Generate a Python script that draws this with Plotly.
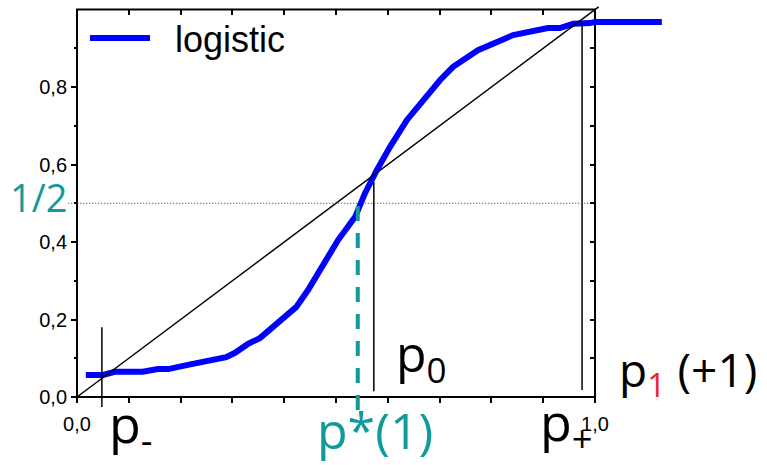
import plotly.graph_objects as go

# ---- data -------------------------------------------------------------
logistic_x = [0.017, 0.050, 0.073, 0.127, 0.156, 0.176, 0.214, 0.259, 0.288,
              0.305, 0.330, 0.353, 0.388, 0.423, 0.446, 0.469, 0.504, 0.537,
              0.556, 0.579, 0.604, 0.637, 0.668, 0.701, 0.726, 0.774, 0.842,
              0.909, 0.932, 0.958, 0.990, 1.000, 1.129]
logistic_y = [0.057, 0.057, 0.065, 0.065, 0.072, 0.072, 0.083, 0.095, 0.103,
              0.114, 0.137, 0.152, 0.194, 0.232, 0.276, 0.328, 0.405, 0.465,
              0.526, 0.586, 0.645, 0.715, 0.766, 0.818, 0.852, 0.895, 0.934,
              0.952, 0.952, 0.963, 0.965, 0.968, 0.968]

diag_x = [0.0, 1.007]
diag_y = [0.0, 1.007]

# fixed points p-, p0, p+ and the level p*(1) where the curve crosses 1/2
p_minus, p_zero, p_plus = 0.048, 0.573, 0.975
p_minus_top, p_zero_top, p_plus_top = 0.18, 0.555, 0.965
p_minus_bottom, p_zero_bottom, p_plus_bottom = -0.026, 0.015, 0.018
p_star = 0.542
half = 0.5
half_x_start = -0.017

x_tickvals = [0.0, 1.0]
x_ticktext = ["0,0", "1,0"]
x_minorvals = [round(0.1 * i, 1) for i in range(1, 10)]
y_tickvals = [0.0, 0.2, 0.4, 0.6, 0.8]
y_ticktext = ["0,0", "0,2", "0,4", "0,6", "0,8"]
y_minorvals = [0.1, 0.3, 0.5, 0.7, 0.9]
inner_ticks = [round(0.1 * i, 1) for i in range(1, 10)]

# ---- geometry ---------------------------------------------------------
W, H = 767, 465
L, R, T, B = 62, 720, 4, 410          # plot area in pixels
x_range = [-0.0290, 1.2413]
y_range = [-0.03355, 1.01419]


def paper_x(v):
    return (v - x_range[0]) / (x_range[1] - x_range[0])


def paper_y(v):
    return (v - y_range[0]) / (y_range[1] - y_range[0])


def px_x(p):
    return (p - L) / (R - L)


def px_y(p):
    return (B - p) / (B - T)


BLUE = "#0000FF"
TEAL = "#12999A"
RED = "#E8262B"
BIG = "Open Sans, DejaVu Sans, sans-serif"
AX = "Liberation Sans, Arial, sans-serif"

fig = go.Figure()

fig.add_trace(go.Scatter(
    x=logistic_x, y=logistic_y, mode="lines",
    name="\u00a0\u00a0logistic",
    line=dict(color=BLUE, width=6), showlegend=True))

fig.add_trace(go.Scatter(
    x=diag_x, y=diag_y, mode="lines", line=dict(color="black", width=1.5),
    showlegend=False, hoverinfo="skip"))

vx, vy = [], []
for xv, lo, hi in [(p_minus, p_minus_bottom, p_minus_top),
                   (p_zero, p_zero_bottom, p_zero_top),
                   (p_plus, p_plus_bottom, p_plus_top)]:
    vx += [xv, xv, None]
    vy += [lo, hi, None]
fig.add_trace(go.Scatter(
    x=vx, y=vy, mode="lines", line=dict(color="black", width=1.5),
    showlegend=False, hoverinfo="skip"))

fig.add_trace(go.Scatter(
    x=[p_star, p_star], y=[y_range[0], half], mode="lines",
    line=dict(color=TEAL, width=4, dash="15px,12px"),
    showlegend=False, hoverinfo="skip"))

fig.add_trace(go.Scatter(
    x=[half_x_start, 1.0], y=[half, half], mode="lines",
    line=dict(color="#333333", width=1.2, dash="1px,2px"),
    showlegend=False, hoverinfo="skip"))

# carrier for the mirrored (top / right) tick axes
fig.add_trace(go.Scatter(x=[None], y=[None], xaxis="x2", yaxis="y2",
                         showlegend=False, hoverinfo="skip"))

# frame of the unit square
fig.add_shape(type="rect", x0=0, x1=1, y0=0, y1=1, xref="x", yref="y",
              line=dict(color="black", width=2), layer="below")

annotations = [
    dict(text="p<sub>-</sub>", x=px_x(107), y=px_y(426), xanchor="left",
         yanchor="middle", font=dict(size=52, color="black", family=BIG)),
    dict(text="p<sub>0</sub>", x=px_x(394), y=px_y(356), xanchor="left",
         yanchor="middle", font=dict(size=50, color="black", family=BIG)),
    dict(text="p<sub>+</sub>", x=px_x(538), y=px_y(424), xanchor="left",
         yanchor="middle", font=dict(size=52, color="black", family=BIG)),
    dict(text="p<sub><span style='color:%s'>1</span></sub> (+1)" % RED,
         x=px_x(617), y=px_y(372), xanchor="left", yanchor="middle",
         font=dict(size=46, color="black", family=BIG)),
    dict(text="p*(1)", x=px_x(375), y=px_y(430), xanchor="center",
         yanchor="middle", font=dict(size=50, color=TEAL, family=BIG)),
    dict(text="1/2", x=px_x(38), y=px_y(197), xanchor="center",
         yanchor="middle", font=dict(size=38, color=TEAL, family=BIG)),
]
for a in annotations:
    a.update(xref="paper", yref="paper", showarrow=False)

fig.update_layout(
    width=W, height=H,
    margin=dict(l=L, r=W - R, t=T, b=H - B, autoexpand=False),
    paper_bgcolor="white", plot_bgcolor="white",
    showlegend=True,
    legend=dict(x=px_x(85), y=px_y(8), xanchor="left", yanchor="top",
                bgcolor="rgba(0,0,0,0)", borderwidth=0, itemwidth=60,
                font=dict(size=36, color="black", family=AX)),
    annotations=annotations,
    xaxis=dict(range=x_range, anchor="free", position=paper_y(0),
               tickmode="array", tickvals=x_tickvals, ticktext=x_ticktext,
               ticks="outside", ticklen=5, tickwidth=2, tickcolor="black",
               minor=dict(tickvals=x_minorvals, ticks="outside", ticklen=5,
                          tickwidth=2, tickcolor="black"),
               ticklabelstandoff=4,
               tickfont=dict(size=20, color="black", family=AX),
               showgrid=False, zeroline=False, showline=False),
    yaxis=dict(range=y_range, anchor="free", position=paper_x(0),
               tickmode="array", tickvals=y_tickvals, ticktext=y_ticktext,
               ticks="outside", ticklen=6, tickwidth=2, tickcolor="black",
               minor=dict(tickvals=y_minorvals, ticks="outside", ticklen=3,
                          tickwidth=2, tickcolor="black"),
               tickfont=dict(size=20, color="black", family=AX),
               showgrid=False, zeroline=False, showline=False),
    xaxis2=dict(range=x_range, overlaying="x", anchor="free",
                position=paper_y(1), side="top", tickmode="array",
                tickvals=inner_ticks, ticks="inside", ticklen=5, tickwidth=2,
                tickcolor="black", showticklabels=False, showgrid=False,
                zeroline=False, showline=False),
    yaxis2=dict(range=y_range, overlaying="y", anchor="free",
                position=paper_x(1), side="right", tickmode="array",
                tickvals=inner_ticks, ticks="inside", ticklen=5, tickwidth=2,
                tickcolor="black", showticklabels=False, showgrid=False,
                zeroline=False, showline=False),
)

fig.write_html("out.html")
